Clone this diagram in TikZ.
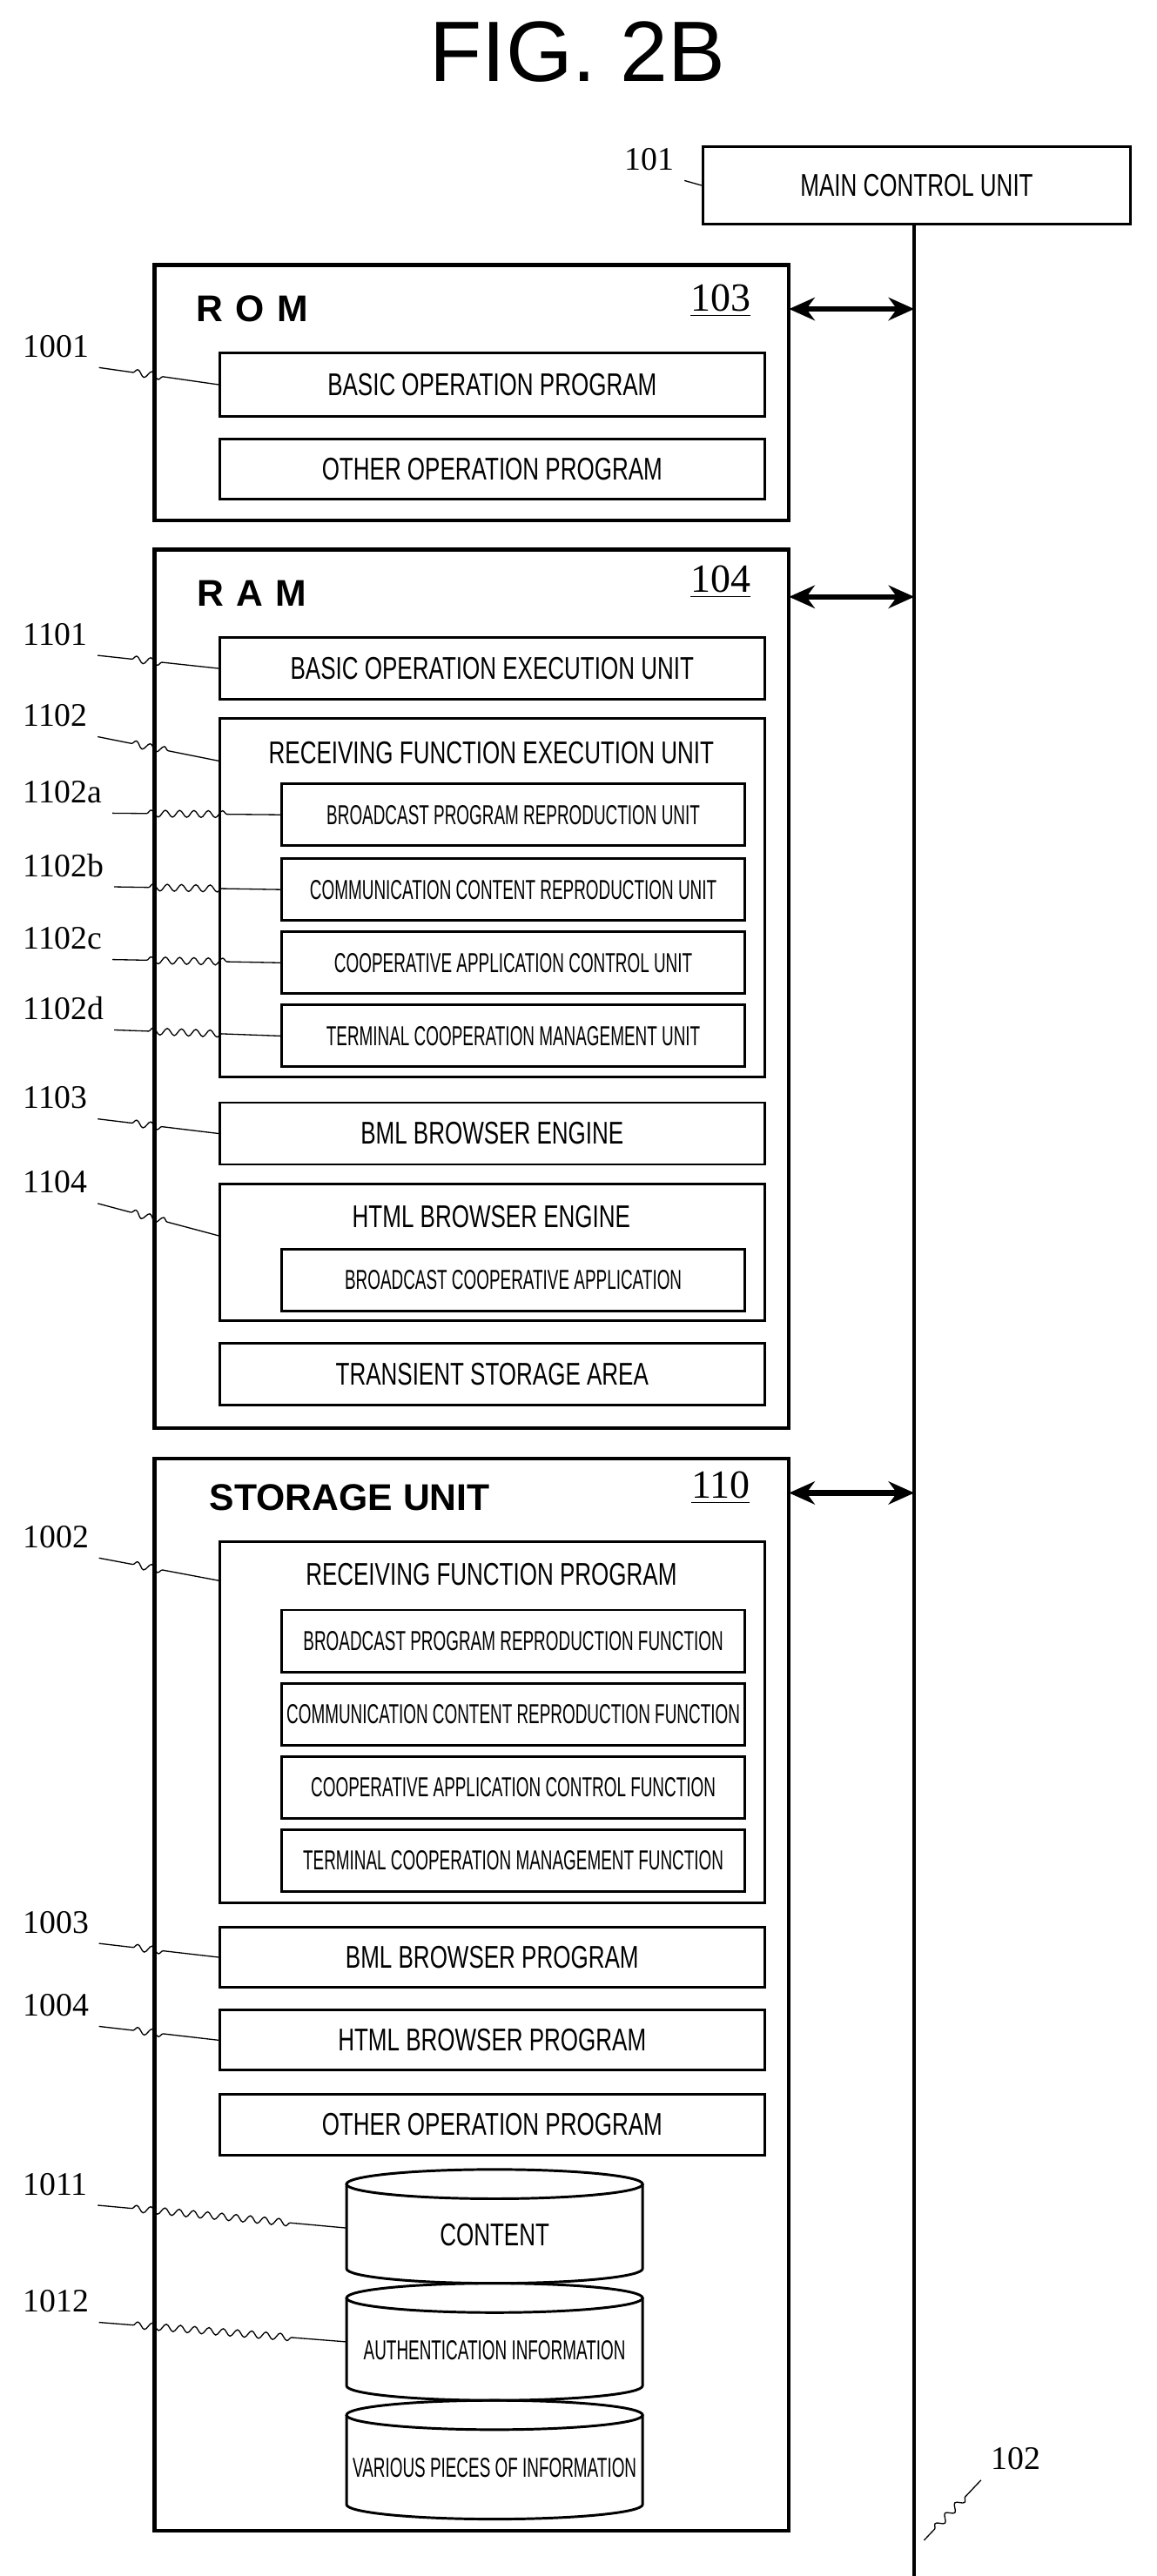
\documentclass[tikz,border=0pt]{standalone}
\usepackage{fontspec}
\setmainfont{Liberation Serif}
\setsansfont{Liberation Sans}
\newfontfamily\condfont[FakeStretch=0.72]{Liberation Sans}
\newfontfamily\narrowfont[FakeStretch=0.6]{Liberation Sans}
\newcommand{\bxf}{\condfont\fontsize{11}{13}\selectfont}
\newcommand{\smf}{\narrowfont\fontsize{9.6}{11}\selectfont}
\usetikzlibrary{fit,arrows.meta,decorations.pathmorphing}
\tikzset{
  frame/.style = {draw, line width=1.3pt, inner sep=0pt},
  box/.style = {draw, line width=0.9pt, inner sep=0pt},
  txt/.style = {font=\bxf},
  ref/.style = {font=\fontsize{11.5}{13}\selectfont, anchor=west},
  lead/.style = {thin, decorate, decoration={snake, amplitude=1.2pt, segment length=5pt, pre length=12pt, post length=18pt}},
  arr/.style = {{Stealth[length=9pt,width=8pt]}-{Stealth[length=9pt,width=8pt]}, line width=2pt}
}
\newcommand{\bx}[6]{\node[box, fit={(#2,#3)(#4,#5)}, label={center:#6}] (#1) {};}
\begin{document}
\begin{tikzpicture}[x=0.02cm, y=-0.02cm]
\useasboundingbox (0,0) rectangle (711,1584);
\node[font=\sffamily\fontsize{30}{34}\selectfont] (title) at (355,32) {FIG. 2B};
% main control unit and bus
\bx{mcu}{432}{90}{695}{138}{\bxf MAIN CONTROL UNIT}
\coordinate (bustop) at (562,138);
\coordinate (busbot) at (562,1584);
\draw[line width=1.3pt] (bustop) -- (busbot);
\node[ref] (n101) at (378,98) {101};
\draw[lead] (n101.south east) -- (mcu.west);
\node[ref] (n102) at (603,1512) {102};
\draw[lead, decoration={pre length=8pt, post length=4pt}] (n102.south west) -- (568,1562);
% ROM
\node[frame, fit={(95,163)(485,320)}] (rom) {};
\node[font=\sffamily\bfseries\fontsize{13}{15}\selectfont] (romt) at (155,190) {R\,\,O\,\,M};
\node[font=\fontsize{14}{16}\selectfont] (romn) at (443,185) {\underline{103}};
\bx{rom1}{135}{217}{470}{256}{\bxf BASIC OPERATION PROGRAM}
\bx{rom2}{135}{270}{470}{307}{\bxf OTHER OPERATION PROGRAM}
\coordinate (romp) at (485,190);
\draw[arr] (romp) -- (romp -| bustop);
\node[ref] (n1001) at (8,213) {1001};
\draw[lead] (n1001.south east) -- (rom1.west);
% RAM
\node[frame, fit={(95,338)(485,878)}] (ram) {};
\node[font=\sffamily\bfseries\fontsize{13}{15}\selectfont] (ramt) at (155,365) {R\,\,A\,\,M};
\node[font=\fontsize{14}{16}\selectfont] (ramn) at (443,358) {\underline{104}};
\coordinate (ramp) at (485,367);
\draw[arr] (ramp) -- (ramp -| bustop);
\bx{ram1}{135}{392}{470}{430}{\bxf BASIC OPERATION EXECUTION UNIT}
\node[box, fit={(135,442)(470,662)}] (recv) {};
\node[txt] (recvt) at (302,463) {RECEIVING FUNCTION EXECUTION UNIT};
\bx{recva}{173}{482}{458}{520}{\smf BROADCAST PROGRAM REPRODUCTION UNIT}
\bx{recvb}{173}{528}{458}{566}{\smf COMMUNICATION CONTENT REPRODUCTION UNIT}
\bx{recvc}{173}{573}{458}{611}{\smf COOPERATIVE APPLICATION CONTROL UNIT}
\bx{recvd}{173}{618}{458}{656}{\smf TERMINAL COOPERATION MANAGEMENT UNIT}
\bx{bml}{135}{678}{470}{716}{\bxf BML BROWSER ENGINE}
\node[box, fit={(135,728)(470,812)}] (html) {};
\node[txt] (htmlt) at (302,748) {HTML BROWSER ENGINE};
\bx{bcapp}{173}{768}{458}{806}{\smf BROADCAST COOPERATIVE APPLICATION}
\bx{trans}{135}{826}{470}{864}{\bxf TRANSIENT STORAGE AREA}
\node[ref] (n1101) at (8,390) {1101};
\draw[lead] (n1101.south east) -- (ram1.west);
\node[ref] (n1102) at (8,440) {1102};
\draw[lead] (n1102.south east) -- (135,468);
\node[ref] (n1102a) at (8,487) {1102a};
\draw[lead] (n1102a.south east) -- (recva.west);
\node[ref] (n1102b) at (8,532) {1102b};
\draw[lead] (n1102b.south east) -- (recvb.west);
\node[ref] (n1102c) at (8,577) {1102c};
\draw[lead] (n1102c.south east) -- (recvc.west);
\node[ref] (n1102d) at (8,620) {1102d};
\draw[lead] (n1102d.south east) -- (recvd.west);
\node[ref] (n1103) at (8,675) {1103};
\draw[lead] (n1103.south east) -- (bml.west);
\node[ref] (n1104) at (8,727) {1104};
\draw[lead] (n1104.south east) -- (135,760);
% storage unit
\node[frame, fit={(95,897)(485,1556)}] (stor) {};
\node[font=\sffamily\bfseries\fontsize{13}{15}\selectfont] (stort) at (215,921) {STORAGE UNIT};
\node[font=\fontsize{14}{16}\selectfont] (storn) at (443,915) {\underline{110}};
\coordinate (storp) at (485,918);
\draw[arr] (storp) -- (storp -| bustop);
\node[box, fit={(135,948)(470,1170)}] (rfp) {};
\node[txt] (rfpt) at (302,968) {RECEIVING FUNCTION PROGRAM};
\bx{rfpa}{173}{990}{458}{1028}{\smf BROADCAST PROGRAM REPRODUCTION FUNCTION}
\bx{rfpb}{173}{1035}{458}{1073}{\smf COMMUNICATION CONTENT REPRODUCTION FUNCTION}
\bx{rfpc}{173}{1080}{458}{1118}{\smf COOPERATIVE APPLICATION CONTROL FUNCTION}
\bx{rfpd}{173}{1125}{458}{1163}{\smf TERMINAL COOPERATION MANAGEMENT FUNCTION}
\bx{bmlp}{135}{1185}{470}{1222}{\bxf BML BROWSER PROGRAM}
\bx{htmlp}{135}{1236}{470}{1273}{\bxf HTML BROWSER PROGRAM}
\bx{othp}{135}{1288}{470}{1325}{\bxf OTHER OPERATION PROGRAM}
% databases
\foreach \nm/\ya/\yb/\lbl in {cont/1343/1395/{\bxf CONTENT},
    auth/1413/1467/{\smf AUTHENTICATION INFORMATION},
    vari/1485/1540/{\smf VARIOUS PIECES OF INFORMATION}} {
  \draw[line width=0.9pt] (213,\ya) -- (213,\yb)
    arc[start angle=180, end angle=0, x radius=91, y radius=9] -- (395,\ya);
  \draw[line width=0.9pt] (304,\ya) ellipse[x radius=91, y radius=9];
  \node (\nm) at (304,{(\ya+\yb)/2+5}) {\lbl};
}
\node[ref] (n1002) at (8,945) {1002};
\draw[lead] (n1002.south east) -- (135,972);
\node[ref] (n1003) at (8,1182) {1003};
\draw[lead] (n1003.south east) -- (bmlp.west);
\node[ref] (n1004) at (8,1233) {1004};
\draw[lead] (n1004.south east) -- (htmlp.west);
\node[ref] (n1011) at (8,1343) {1011};
\draw[lead] (n1011.south east) -- (213,1370);
\node[ref] (n1012) at (8,1415) {1012};
\draw[lead] (n1012.south east) -- (213,1440);
\end{tikzpicture}
\end{document}
